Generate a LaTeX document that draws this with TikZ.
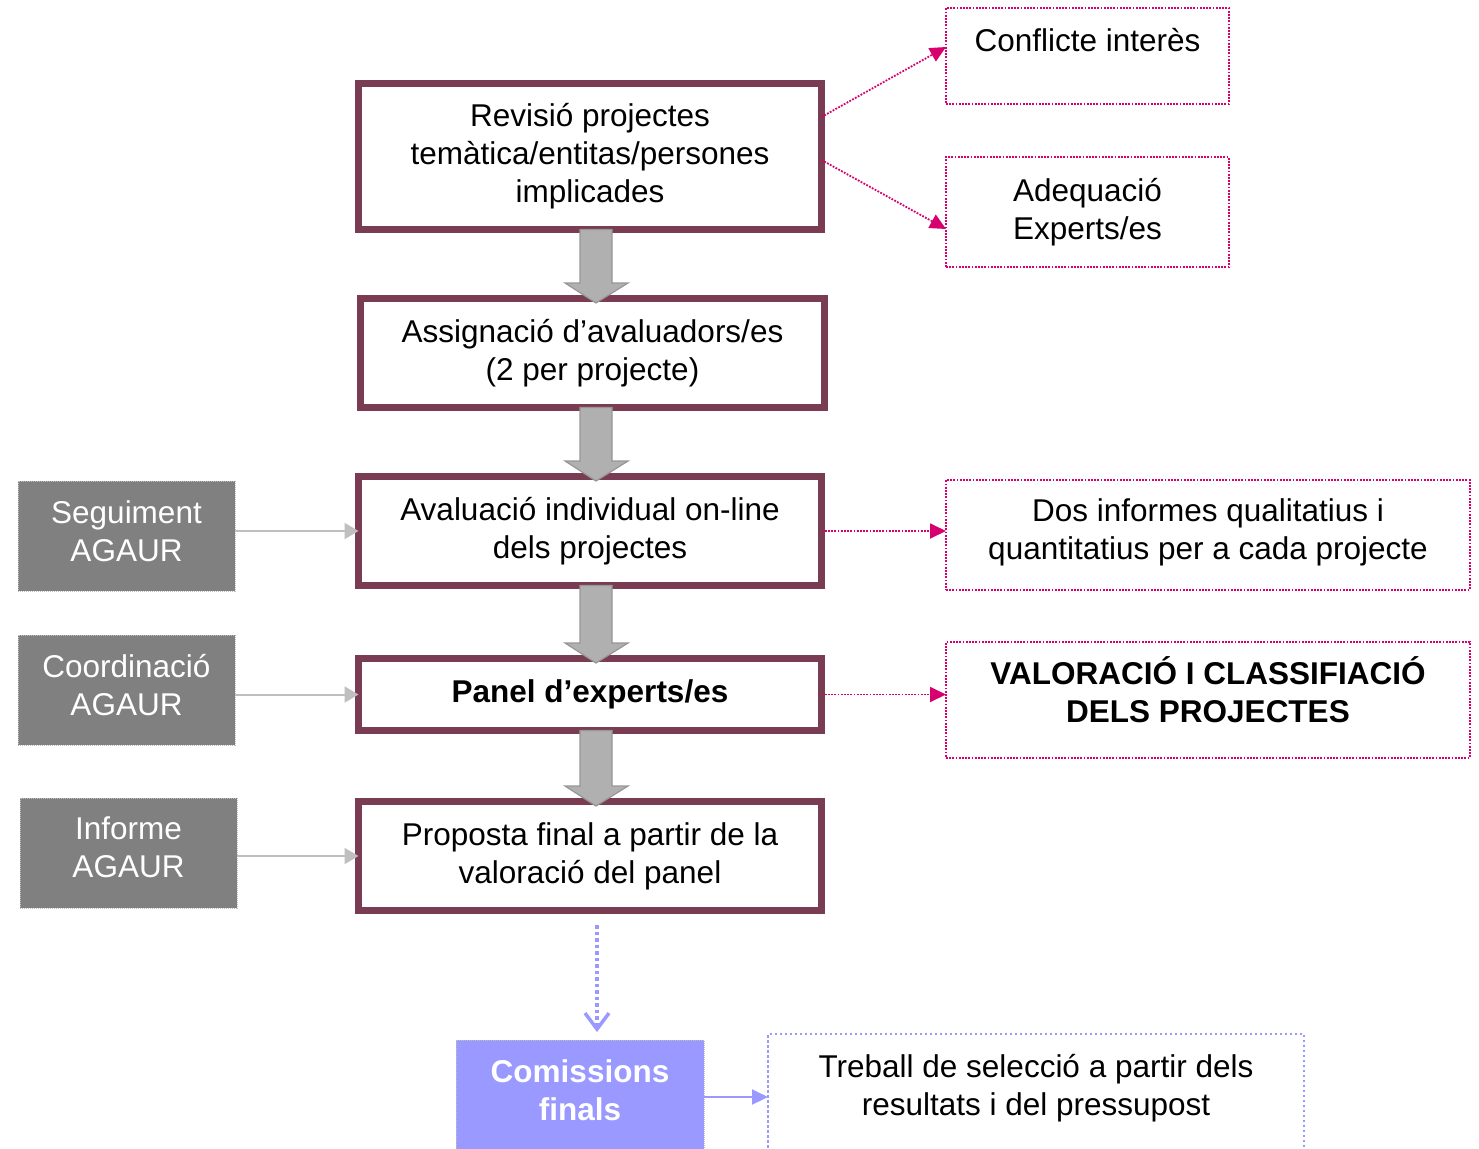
\documentclass[tikz,border=0pt]{standalone}
\usepackage{fontspec}
\setmainfont{Liberation Sans}
\usetikzlibrary{arrows.meta,calc}
\definecolor{VFrame}{HTML}{7A3C52}
\definecolor{VPink}{HTML}{D6006E}
\definecolor{VGrey}{HTML}{808080}
\definecolor{VLight}{HTML}{BFBFBF}
\definecolor{VArrow}{HTML}{B0B0B0}
\definecolor{VArrowEdge}{HTML}{969696}
\definecolor{VBlue}{HTML}{9999FF}
\newcommand{\txt}{\fontsize{31.5}{38}\selectfont}

\begin{document}
\begin{tikzpicture}[x=1pt, y=-1pt,
    every node/.style={font=\txt, align=center, inner sep=0pt, outer sep=0pt},
    stage/.style={draw=VFrame, line width=7pt, minimum width=463pt},
    note/.style={draw=VPink, line width=1.8pt, dash pattern=on 1.8pt off 1.4pt},
    agaur/.style={fill=VGrey, draw=VLight, line width=1pt, dash pattern=on 1pt off 1pt, minimum width=217pt, minimum height=110pt},
    agaurtxt/.style={text=white},
    dotarrow/.style={VPink, line width=1.8pt, dash pattern=on 1.8pt off 1.4pt, -{Triangle[length=16pt,width=15pt]}},
    greyarrow/.style={VLight, line width=2pt, -{Triangle[length=14pt,width=16pt]}},
    blockarrow/.style={fill=VArrow, draw=VArrowEdge, line width=1.2pt, line join=miter}]
    \useasboundingbox (0,0) rectangle (1479,1148);

    % etapes
    \node[stage, minimum height=146pt] (revisio) at (590,156.5) {Revisió projectes\\temàtica/entitas/persones\\implicades};
    \node[stage, minimum height=109pt, minimum width=464pt] (assignacio) at (592.5,353) {Assignació d’avaluadors/es\\(2 per projecte)};
    \node[stage, minimum height=109pt] (avaluacio) at (590,531) {Avaluació individual on-line\\dels projectes};
    \node[stage, minimum height=72pt, font=\txt\bfseries] (panel) at (590,694.5) {Panel d’experts/es};
    \node[stage, minimum height=109pt] (proposta) at (590,856) {Proposta final a partir de la\\valoració del panel};

    \foreach \a/\b in {revisio/assignacio, assignacio/avaluacio, avaluacio/panel, panel/proposta}
    {
        \coordinate (top) at (\a.south -| revisio.south);
        \coordinate (tip) at (\b.north -| revisio.south);
        \draw[blockarrow] ([xshift=-10pt]top) -- ([xshift=22pt]top) -- ([xshift=22pt,yshift=15.5pt]tip)
            -- ([xshift=38pt,yshift=15.5pt]tip) -- ([xshift=6pt,yshift=-4.5pt]tip)
            -- ([xshift=-25pt,yshift=15.5pt]tip) -- ([xshift=-10pt,yshift=15.5pt]tip) -- cycle;
    }

    % resultats
    \node[note, minimum width=283pt, minimum height=96pt] (conflicte) at (1087.5,56) {};
    \node (conflictetxt) at ([yshift=16pt]conflicte.center) {Conflicte interès};
    \node[note, minimum width=283pt, minimum height=110pt] (adequacio) at (1087.5,212) {Adequació\\Experts/es};
    \node[note, minimum width=524pt, minimum height=110pt] (informes) at (1208,535) {};
    \node (informestxt) at ([yshift=3pt]informes.center) {Dos informes qualitatius i\\quantitatius per a cada projecte};
    \node[note, minimum width=524pt, minimum height=116pt] (valoracio) at (1208,700) {};
    \node[font=\txt\bfseries] (valoraciotxt) at ([yshift=10pt]valoracio.center) {VALORACIÓ I CLASSIFIACIÓ\\DELS PROJECTES};

    \draw[dotarrow] ([yshift=39.5pt]revisio.east) -- ([yshift=9pt]conflicte.west);
    \draw[dotarrow] ([yshift=-3.5pt]revisio.east) -- ([yshift=-17pt]adequacio.west);
    \draw[dotarrow] (avaluacio.east) -- (avaluacio.east -| informes.west);
    \draw[dotarrow] (panel.east) -- (panel.east -| valoracio.west);

    % AGAUR
    \node[agaur] (seguiment) at (126.5,536) {};
    \node[agaurtxt] (seguimenttxt) at ([yshift=5pt]seguiment.center) {Seguiment\\AGAUR};
    \node[agaur] (coordinacio) at (126.5,690) {};
    \node[agaurtxt] (coordinaciotxt) at ([yshift=5pt]coordinacio.center) {Coordinació\\AGAUR};
    \node[agaur] (informe) at (128.5,853) {};
    \node[agaurtxt] (informetxt) at ([yshift=5.5pt]informe.center) {Informe\\AGAUR};

    \draw[greyarrow] (seguiment.east |- avaluacio.west) -- (avaluacio.west);
    \draw[greyarrow] (coordinacio.east |- panel.west) -- (panel.west);
    \draw[greyarrow] (informe.east |- proposta.west) -- (proposta.west);

    % comissions
    \node[fill=VBlue, draw=VLight, line width=1pt, dash pattern=on 1pt off 1pt, minimum width=248pt, minimum height=120pt] (comissions) at (580,1100) {};
    \node[text=white, font=\txt\bfseries] (comissionstxt) at (580,1090) {Comissions\\finals};
    \node[draw=VBlue, line width=2.5pt, dash pattern=on 2.5pt off 2.5pt, minimum width=536pt, minimum height=132pt] (treball) at (1036,1100) {};
    \node (treballtxt) at (1036,1088) {Treball de selecció a partir dels\\resultats i del pressupost};

    \draw[VBlue, line width=3.5pt, dash pattern=on 3.5pt off 3pt, -{Straight Barb[length=16pt,width=24pt]}]
        ([xshift=7pt,yshift=-14.5pt]proposta.south) -- ([xshift=17pt,yshift=8pt]comissions.north);
    \draw[VBlue, line width=2pt, -{Triangle[length=16pt,width=15pt]}] ([yshift=3pt]comissions.east) -- ([yshift=3pt]treball.west);
\end{tikzpicture}
\end{document}
